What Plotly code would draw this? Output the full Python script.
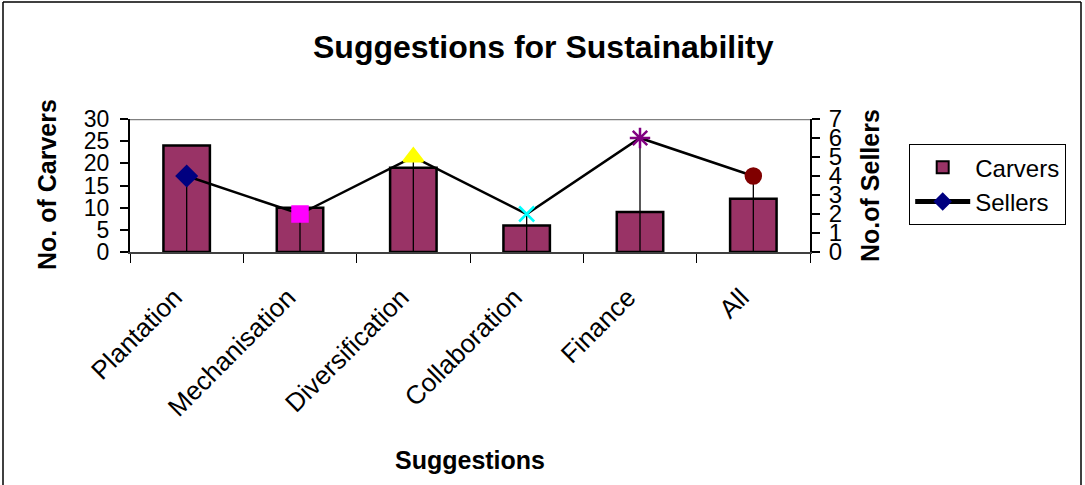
import plotly.graph_objects as go

# Survey results: suggestions for sustainability
suggestions = ["Plantation", "Mechanisation", "Diversification",
               "Collaboration", "Finance", "All"]
carvers = [24, 10, 19, 6, 9, 12]
sellers = [4, 2, 5, 2, 6, 4]

carver_ticks = [0, 5, 10, 15, 20, 25, 30]
seller_ticks = [0, 1, 2, 3, 4, 5, 6, 7]

# One marker style per suggestion on the sellers line
seller_symbols = ["diamond", "square", "triangle-up", "x-thin", "asterisk-open", "circle"]
seller_colors = ["#000080", "#FF00FF", "#FFFF00", "#00FFFF", "#800080", "#800000"]
seller_sizes = [15, 15, 17, 15, 17, 15]

W, H = 1085, 485
ML, MR, MT, MB = 130, 275, 119, 233
PW, PH = W - ML - MR, H - MT - MB

FONT = "Liberation Sans, Arial, sans-serif"

fig = go.Figure()

fig.add_trace(go.Bar(
    x=suggestions, y=carvers, name="Carvers",
    marker=dict(color="#993366", line=dict(color="black", width=2.5)),
    width=0.41, yaxis="y",
))

fig.add_trace(go.Scatter(
    x=suggestions, y=sellers, name="Sellers", yaxis="y2",
    mode="lines+markers",
    line=dict(color="black", width=2.5),
    marker=dict(symbol=seller_symbols, color=seller_colors, size=seller_sizes,
                opacity=1, line=dict(color=seller_colors, width=2.5)),
    # drop lines from each point down to the category axis
    error_y=dict(type="data", symmetric=False, array=[0] * len(sellers),
                 arrayminus=sellers, color="black", thickness=1.3, width=0),
))

fig.update_layout(
    width=W, height=H,
    margin=dict(l=ML, r=MR, t=MT, b=MB, pad=0),
    paper_bgcolor="white", plot_bgcolor="white",
    font=dict(family=FONT, color="black"),
    showlegend=True,
    legend=dict(
        x=(909 - ML) / PW, y=(H - MB - 144) / PH,
        xanchor="left", yanchor="top",
        bordercolor="black", borderwidth=1.2, bgcolor="white",
        font=dict(size=24, family=FONT),
        itemsizing="constant", itemwidth=55, tracegroupgap=4,
    ),
    xaxis=dict(
        type="category", showgrid=False, zeroline=False,
        showline=True, linecolor="#404040", linewidth=2,
        ticks="outside", ticklen=9, tickwidth=1, tickcolor="black",
        tickson="boundaries",
        tickangle=-45, tickfont=dict(size=26, family=FONT),
        ticklabelstandoff=18, ticklabelshift=-12,
        range=[-0.5, 5.5],
    ),
    yaxis=dict(
        range=[0, 30], tickvals=carver_ticks, showgrid=False, zeroline=False,
        showline=True, linecolor="black", linewidth=2,
        ticks="outside", ticklen=8, tickwidth=1.5, tickcolor="black",
        tickfont=dict(size=23, family=FONT), ticklabelstandoff=6,
    ),
    yaxis2=dict(
        range=[0, 7], tickvals=seller_ticks, overlaying="y", side="right",
        showgrid=False, zeroline=False,
        showline=True, linecolor="black", linewidth=2,
        ticks="outside", ticklen=8, tickwidth=1.5, tickcolor="black",
        tickfont=dict(size=24, family=FONT), ticklabelstandoff=4,
    ),
    bargap=0.59,
)

# top edge of the plot area
fig.add_shape(type="line", xref="paper", yref="y", x0=0, x1=1, y0=30, y1=30,
              line=dict(color="#808080", width=2.5), layer="below")

# outer frame of the chart (left, top, right)
def px(x):
    return (x - ML) / PW

def py(y):
    return (H - MB - y) / PH

for x0, y0, x1, y1 in [(3, 2, 3, H + 5), (3, 2, 1081, 2), (1081, 2, 1081, H + 5)]:
    fig.add_shape(type="line", xref="paper", yref="paper",
                  x0=px(x0), y0=py(y0), x1=px(x1), y1=py(y1),
                  line=dict(color="black", width=1.5))

# titles
fig.add_annotation(text="<b>Suggestions for Sustainability</b>", xref="paper", yref="paper",
                   x=px(543), y=py(47), showarrow=False, font=dict(size=32, family=FONT),
                   xanchor="center", yanchor="middle")
fig.add_annotation(text="<b>Suggestions</b>", xref="paper", yref="paper",
                   x=px(470), y=py(460), showarrow=False, font=dict(size=25, family=FONT),
                   xanchor="center", yanchor="middle")
fig.add_annotation(text="<b>No. of Carvers</b>", xref="paper", yref="paper",
                   x=px(47), y=py(185), showarrow=False, textangle=-90,
                   font=dict(size=25, family=FONT), xanchor="center", yanchor="middle")
fig.add_annotation(text="<b>No.of Sellers</b>", xref="paper", yref="paper",
                   x=px(870), y=py(185), showarrow=False, textangle=-90,
                   font=dict(size=25, family=FONT), xanchor="center", yanchor="middle")

fig.write_html("out.html")
